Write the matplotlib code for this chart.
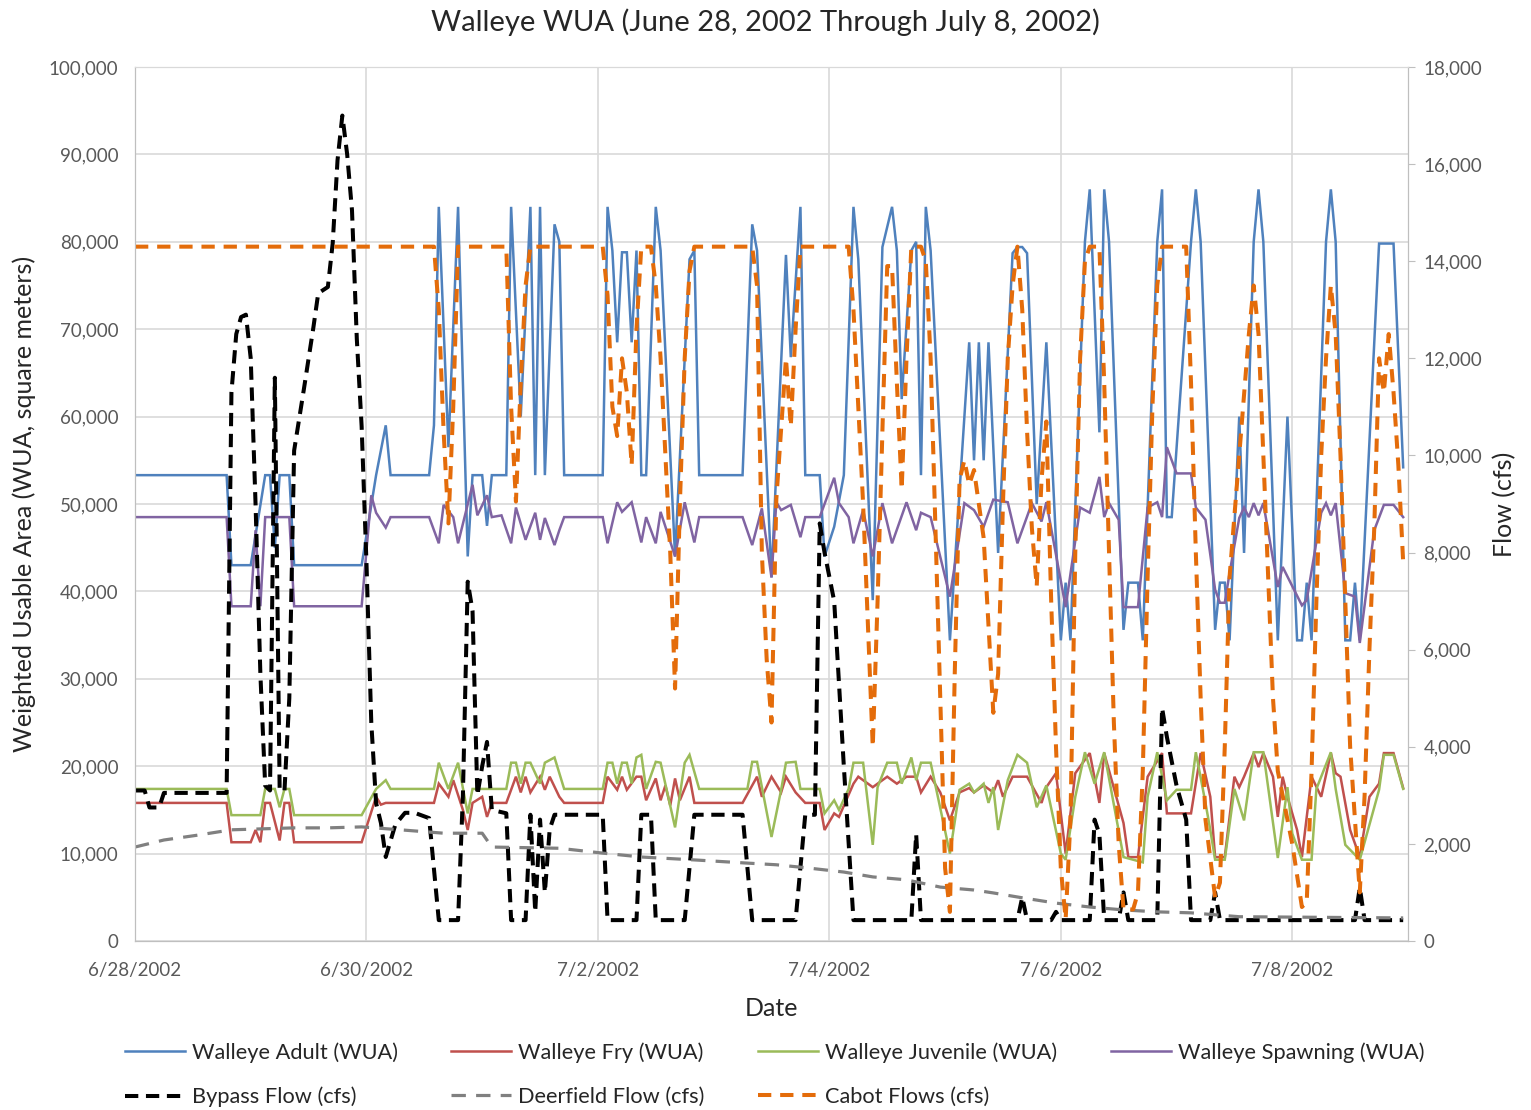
import pandas as pd
import matplotlib
matplotlib.use("Agg")
import matplotlib.pyplot as plt
import matplotlib.dates as mdates
from matplotlib.ticker import FuncFormatter, MultipleLocator

plt.rcParams['font.family'] = ['Lato', 'DejaVu Sans']

start = pd.Timestamp("2002-06-28 00:00")

# (hour since 6/28 00:00, value) vertices of each hourly series
adult = [(0, 53300), (19, 53300), (20, 43000), (24, 43000), (27, 53300), (28, 53300), (29, 45000), (30, 53300),
         (32, 53300), (33, 43000), (47, 43000), (50, 53300), (52, 59000), (53, 53300), (61, 53300), (62, 59000),
         (63, 84000), (65, 56500), (67, 84000), (69, 44000), (70, 53300), (72, 53300), (73, 47500), (74, 53300),
         (77, 53300), (78, 84000), (80, 60000), (82, 84000), (83, 53300), (84, 84000), (85, 53300), (87, 82000),
         (88, 80000), (89, 53300), (97, 53300), (98, 84000), (99, 79000), (100, 68500), (101, 78800), (102, 78800),
         (103, 68500), (104, 79000), (105, 53300), (106, 53300), (108, 84000), (109, 79000), (112, 44000),
         (115, 78000), (116, 79000), (117, 53300), (126, 53300), (128, 82000), (129, 79000), (132, 41600),
         (135, 78500), (136, 66800), (138, 84000), (139, 53300), (142, 53300), (143, 44000), (145, 47400),
         (147, 53300), (149, 84000), (150, 78000), (153, 39000), (155, 79400), (157, 84000), (158, 79000),
         (159, 62000), (161, 79000), (162, 80000), (163, 53300), (164, 84000), (165, 79000), (169, 34400),
         (173, 68500), (174, 55000), (175, 68500), (176, 55000), (177, 68500), (179, 44400), (182, 78700),
         (183, 79400), (184, 79400), (185, 78700), (187, 50000), (189, 68500), (192, 34400), (193, 41000),
         (194, 34400), (197, 80000), (198, 86000), (200, 58200), (201, 86000), (202, 80000), (205, 35600),
         (206, 41000), (208, 41000), (209, 34400), (212, 80000), (213, 86000), (214, 48500), (215, 48500),
         (219, 80000), (220, 86000), (221, 80000), (224, 35600), (225, 41000), (226, 41000), (227, 34400),
         (229, 60000), (230, 44400), (232, 80000), (233, 86000), (234, 80000), (237, 34400), (239, 60000),
         (241, 34400), (242, 34400), (243, 41000), (244, 34400), (247, 80000), (248, 86000), (249, 80000),
         (251, 34400), (252, 34400), (253, 41000), (254, 34400), (258, 79800), (261, 79800), (263, 54200)]

fry = [(0, 15800), (19, 15800), (20, 11300), (24, 11300), (25, 12700), (26, 11300), (27, 15800), (28, 15800),
       (30, 11500), (31, 15800), (32, 15800), (33, 11300), (47, 11300), (50, 16500), (51, 15600), (52, 15800),
       (62, 15800), (63, 18000), (65, 16500), (66, 18400), (68, 15000), (69, 12700), (70, 15800), (72, 16500),
       (73, 14200), (74, 15800), (77, 15800), (79, 18800), (80, 17000), (81, 18800), (82, 17000), (84, 18800),
       (85, 17300), (86, 18800), (88, 16500), (89, 15800), (97, 15800), (98, 18800), (100, 17300), (101, 18800),
       (102, 17300), (104, 18800), (105, 18800), (106, 16100), (108, 18600), (109, 16100), (110, 17800),
       (111, 15500), (112, 18600), (113, 16100), (115, 18800), (116, 15800), (126, 15800), (129, 18800),
       (130, 16500), (132, 18800), (134, 17000), (135, 18800), (137, 17000), (139, 15800), (142, 15800),
       (143, 12700), (145, 14600), (146, 14200), (149, 18000), (150, 18800), (153, 17600), (156, 18800),
       (158, 18000), (160, 18800), (162, 18800), (163, 17000), (165, 18800), (167, 17000), (169, 13800),
       (171, 17000), (173, 17500), (174, 17000), (176, 17800), (178, 17000), (179, 18400), (180, 16500),
       (182, 18800), (185, 18800), (188, 15800), (189, 17600), (191, 19200), (193, 10000), (195, 19200),
       (198, 21500), (200, 15800), (201, 21500), (205, 13500), (206, 9600), (208, 9600), (210, 18800),
       (213, 21500), (214, 14600), (219, 14600), (221, 21500), (223, 16500), (224, 9600), (226, 9600),
       (228, 18800), (229, 17600), (230, 18800), (232, 21500), (233, 19900), (234, 21500), (236, 18800),
       (237, 14200), (238, 18800), (239, 16500), (241, 12700), (242, 9600), (244, 18800), (246, 16500),
       (248, 21500), (249, 19200), (250, 18800), (252, 12700), (254, 9600), (256, 16500), (258, 18000),
       (259, 21500), (261, 21500), (263, 17500)]

juvenile = [(0, 17400), (19, 17400), (20, 14400), (26, 14400), (27, 17400), (29, 17400), (30, 15300), (31, 17400),
            (32, 17400), (33, 14400), (47, 14400), (50, 17400), (52, 18400), (53, 17400), (62, 17400), (63, 20400),
            (65, 17400), (67, 20400), (69, 14600), (70, 17400), (77, 17400), (78, 20400), (79, 20400), (80, 18000),
            (81, 20400), (82, 20400), (84, 18000), (85, 20400), (87, 21000), (88, 19200), (89, 17400), (97, 17400),
            (98, 20400), (99, 20400), (100, 18000), (101, 20400), (102, 20400), (103, 18000), (104, 21000),
            (105, 21300), (106, 17400), (108, 20500), (109, 20400), (112, 13000), (114, 20400), (115, 21300),
            (117, 17400), (127, 17400), (128, 20500), (129, 20500), (132, 11900), (134, 17300), (135, 20400),
            (137, 20500), (138, 17400), (142, 17400), (143, 14600), (145, 16100), (146, 15000), (148, 17400),
            (149, 20400), (151, 20400), (153, 11000), (154, 17600), (156, 20400), (158, 20400), (159, 18000),
            (161, 21000), (162, 18400), (163, 20400), (165, 20400), (169, 10000), (171, 17300), (173, 18000),
            (174, 17000), (176, 18000), (177, 15800), (178, 17600), (179, 12700), (181, 18400), (183, 21300),
            (185, 20400), (187, 15300), (189, 17800), (192, 10000), (193, 9300), (195, 16500), (197, 21600),
            (199, 18000), (201, 21600), (205, 9600), (209, 9000), (210, 16500), (212, 21600), (214, 16100),
            (216, 17300), (219, 17300), (220, 21600), (222, 15800), (223, 12700), (224, 9300), (226, 9300),
            (228, 17400), (230, 13800), (232, 21600), (234, 21600), (237, 9500), (239, 17600), (240, 12300),
            (242, 9300), (244, 9300), (245, 17400), (248, 21600), (249, 17400), (251, 11000), (254, 9300),
            (258, 17300), (259, 21300), (261, 21300), (263, 17400)]

spawning = [(0, 48500), (19, 48500), (20, 38300), (24, 38300), (25, 47000), (26, 38300), (27, 48500), (32, 48500),
            (33, 38300), (47, 38300), (49, 51000), (50, 49000), (52, 47300), (53, 48500), (61, 48500), (63, 45500),
            (64, 49900), (66, 48500), (67, 45500), (70, 52200), (71, 48700), (73, 51000), (74, 48500), (76, 48700),
            (78, 45500), (79, 49600), (81, 45900), (83, 49000), (84, 45900), (85, 48400), (87, 45300), (88, 47000),
            (89, 48500), (97, 48500), (98, 45500), (100, 50200), (101, 49100), (103, 50200), (105, 45600),
            (106, 48500), (108, 45500), (109, 49100), (112, 44000), (114, 50200), (116, 45600), (117, 48500),
            (126, 48500), (128, 45300), (130, 49500), (132, 41600), (133, 50200), (134, 49300), (136, 49900),
            (138, 46200), (139, 48500), (142, 48500), (145, 53000), (146, 50100), (148, 48500), (149, 45500),
            (151, 49300), (153, 44000), (155, 50100), (157, 45500), (160, 50200), (162, 47000), (163, 49000),
            (165, 48500), (169, 39400), (172, 50100), (174, 49300), (176, 47400), (178, 50500), (181, 50200),
            (183, 45500), (186, 50100), (188, 48000), (189, 50200), (193, 38200), (196, 49600), (198, 49000),
            (200, 53100), (201, 48500), (202, 50100), (204, 48200), (205, 38200), (208, 38200), (210, 49600),
            (212, 50200), (213, 48500), (214, 56500), (216, 53500), (219, 53500), (220, 49600), (222, 48200),
            (224, 40200), (225, 38700), (226, 38700), (227, 42100), (229, 48400), (230, 49600), (231, 48500),
            (232, 50100), (233, 48700), (234, 50100), (237, 40500), (238, 42800), (242, 38400), (243, 39000),
            (246, 49000), (247, 50100), (248, 48700), (249, 50100), (251, 39800), (253, 39400), (254, 34100),
            (257, 47000), (259, 49900), (261, 49900), (263, 48500)]

bypass = [(0, 3100), (2, 3100), (3, 2750), (5, 2750), (6, 3050), (19, 3050), (20, 11300), (21, 12500), (22, 12850),
          (23, 12900), (24, 12000), (25, 9000), (26, 5500), (27, 3200), (28, 3100), (29, 11600), (30, 3100),
          (31, 3100), (32, 5000), (33, 10100), (35, 11350), (37, 12640), (38, 13340), (40, 13470), (41, 14370),
          (42, 16080), (43, 17000), (44, 16200), (45, 15050), (46, 12400), (47, 10600), (48, 7800), (49, 4500),
          (50, 2840), (51, 2430), (52, 1730), (54, 2400), (56, 2640), (58, 2640), (61, 2530), (63, 430), (67, 430),
          (68, 3000), (69, 7400), (70, 6800), (71, 3000), (72, 3600), (73, 4100), (74, 2700), (77, 2630), (78, 430),
          (81, 430), (82, 2600), (83, 600), (84, 2500), (85, 1000), (86, 2300), (87, 2600), (97, 2600), (98, 430),
          (104, 430), (105, 2600), (107, 2600), (108, 430), (114, 430), (116, 2600), (126, 2600), (128, 430),
          (137, 430), (139, 2600), (141, 2600), (142, 8600), (143, 8000), (145, 7000), (147, 3600), (149, 430),
          (161, 430), (162, 2200), (163, 430), (183, 430), (184, 900), (185, 430), (190, 430), (191, 600),
          (192, 430), (198, 430), (199, 2500), (200, 2200), (201, 430), (204, 430), (205, 1000), (206, 430),
          (212, 430), (213, 4800), (214, 4200), (216, 3200), (218, 2500), (219, 430), (223, 430), (224, 1000),
          (225, 430), (253, 430), (254, 1100), (255, 430), (263, 430)]

deerfield = [(0, 1935), (6, 2080), (13, 2180), (20, 2290), (33, 2330), (40, 2330), (47, 2350), (55, 2290),
             (64, 2220), (72, 2220), (74, 1935), (88, 1910), (97, 1810), (105, 1730), (116, 1670), (126, 1610),
             (133, 1570), (139, 1510), (147, 1420), (153, 1320), (160, 1260), (167, 1110), (174, 1050), (178, 990),
             (184, 890), (191, 780), (198, 700), (205, 640), (212, 600), (219, 580), (229, 500), (263, 475)]

cabot = [(0, 14300), (62, 14300), (63, 13000), (64, 10500), (65, 8600), (66, 11000), (67, 14300), (77, 14300),
         (78, 11000), (79, 9050), (80, 11500), (81, 13500), (82, 14300), (97, 14300), (98, 13300), (99, 11000),
         (100, 10400), (101, 12000), (102, 11300), (103, 9800), (104, 12600), (105, 14300), (107, 14300),
         (108, 13500), (109, 12000), (110, 10000), (111, 8000), (112, 5200), (113, 9000), (114, 12000),
         (115, 13800), (116, 14300), (128, 14300), (129, 13500), (130, 8000), (131, 5800), (132, 4500),
         (133, 9100), (135, 12000), (136, 10600), (137, 12600), (138, 14300), (148, 14300), (149, 13000),
         (151, 9000), (153, 4000), (154, 7000), (155, 10500), (156, 13900), (157, 13900), (158, 11500),
         (159, 9300), (160, 12000), (161, 14300), (163, 14300), (164, 14000), (165, 12000), (166, 8500),
         (167, 5000), (168, 1500), (169, 600), (170, 5500), (171, 9500), (172, 9900), (173, 9400), (174, 9700),
         (175, 9000), (176, 8300), (177, 6500), (178, 4700), (179, 5500), (180, 9000), (181, 12000), (182, 13500),
         (183, 14300), (184, 13000), (185, 10500), (186, 8500), (187, 7300), (188, 9500), (189, 10700),
         (190, 7000), (191, 4000), (192, 1500), (193, 450), (194, 2500), (195, 8000), (196, 12000), (197, 14000),
         (198, 14300), (200, 14300), (201, 11500), (202, 8000), (203, 4500), (204, 2000), (205, 650), (207, 650),
         (208, 1000), (209, 3500), (210, 7500), (211, 11000), (212, 13500), (213, 14300), (218, 14300),
         (219, 11500), (220, 8000), (221, 5000), (222, 2500), (224, 900), (225, 1200), (226, 4000), (227, 7500),
         (229, 10000), (231, 12500), (232, 13500), (233, 12500), (234, 10000), (235, 7500), (236, 5000),
         (237, 3500), (238, 3000), (240, 2000), (242, 700), (243, 800), (244, 3500), (245, 7000), (246, 10000),
         (247, 12000), (248, 13500), (249, 12500), (250, 10000), (251, 7000), (252, 4000), (254, 1000),
         (255, 3000), (256, 6000), (257, 8500), (258, 12000), (259, 11300), (260, 12500), (261, 11300),
         (262, 9800), (263, 7800)]


def to_xy(series):
    hours, values = zip(*series)
    return start + pd.to_timedelta(list(hours), unit="h"), list(values)


fig = plt.figure(figsize=(15.31, 11.10), dpi=100)
ax = fig.add_axes([135 / 1531, 1 - 941 / 1110, (1408 - 135) / 1531, (941 - 67) / 1110])
ax2 = ax.twinx()

grid_col = "#D9D9D9"
spine_col = "#BFBFBF"
text_col = "#595959"

# WUA series on the left axis
for data, label, color in [(adult, "Walleye Adult (WUA)", "#4F81BD"),
                           (fry, "Walleye Fry (WUA)", "#C0504D"),
                           (juvenile, "Walleye Juvenile (WUA)", "#9BBB59"),
                           (spawning, "Walleye Spawning (WUA)", "#8064A2")]:
    x, y = to_xy(data)
    ax.plot(x, y, color=color, lw=1.8, label=label, solid_joinstyle="miter")

# flows on the right axis
x, y = to_xy(bypass)
ax2.plot(x, y, color="black", lw=2.9, dashes=(3.3, 1.9), label="Bypass Flow (cfs)")
x, y = to_xy(deerfield)
ax2.plot(x, y, color="#808080", lw=2.3, dashes=(4.5, 3.2), label="Deerfield Flow (cfs)")
x, y = to_xy(cabot)
ax2.plot(x, y, color="#E46C0A", lw=2.9, dashes=(3.3, 2.2), label="Cabot Flows (cfs)")

ax.set_xlim(start, start + pd.Timedelta(days=11))
ax.set_ylim(0, 100000)
ax2.set_ylim(0, 18000)
ax.set_xticks(pd.date_range(start, periods=6, freq="2D"))
ax.xaxis.set_major_formatter(FuncFormatter(
    lambda v, p: "{d.month}/{d.day}/{d.year}".format(d=mdates.num2date(v))))
ax.yaxis.set_major_locator(MultipleLocator(10000))
ax2.yaxis.set_major_locator(MultipleLocator(2000))
ax.yaxis.set_major_formatter(FuncFormatter(lambda v, p: f"{v:,.0f}"))
ax2.yaxis.set_major_formatter(FuncFormatter(lambda v, p: f"{v:,.0f}"))

ax.grid(True, color=grid_col, lw=1.2)
ax.set_axisbelow(True)
ax.tick_params(axis="x", length=0, pad=15, labelsize=13.5, colors=text_col)
ax.tick_params(axis="y", length=0, pad=12, labelsize=13.5, colors=text_col)
ax2.tick_params(axis="y", length=5, pad=6, labelsize=13.5, colors=text_col, color=spine_col)
for a in (ax, ax2):
    for side in ("left", "bottom", "right"):
        a.spines[side].set_color(spine_col)
    a.spines["top"].set_color(grid_col)

ax.set_xlabel("Date", fontsize=18, labelpad=13, color="#262626")
ax.set_ylabel("Weighted Usable Area (WUA, square meters)", fontsize=18, labelpad=9, color="#262626")
ax2.set_ylabel("Flow (cfs)", fontsize=18, labelpad=8, color="#262626")
fig.suptitle("Walleye WUA (June 28, 2002 Through July 8, 2002)", y=1 - 22 / 1110, va="center",
             fontsize=21, color="#262626")

# column-major legend order: two rows under the plot
h1, l1 = ax.get_legend_handles_labels()
h2, l2 = ax2.get_legend_handles_labels()
order_h = [h1[0], h2[0], h1[1], h2[1], h1[2], h2[2], h1[3]]
order_l = [l1[0], l2[0], l1[1], l2[1], l1[2], l2[2], l1[3]]
leg = fig.legend(order_h, order_l, ncol=4, loc="upper left", bbox_to_anchor=(125 / 1531, 1 - 1042 / 1110),
                 frameon=False, fontsize=15.7, handlelength=2.75, handletextpad=0.32, columnspacing=2.45,
                 labelspacing=1.1, borderpad=0, borderaxespad=0)
for t in leg.get_texts():
    t.set_color("#262626")

fig.savefig("out.png", dpi=100)
